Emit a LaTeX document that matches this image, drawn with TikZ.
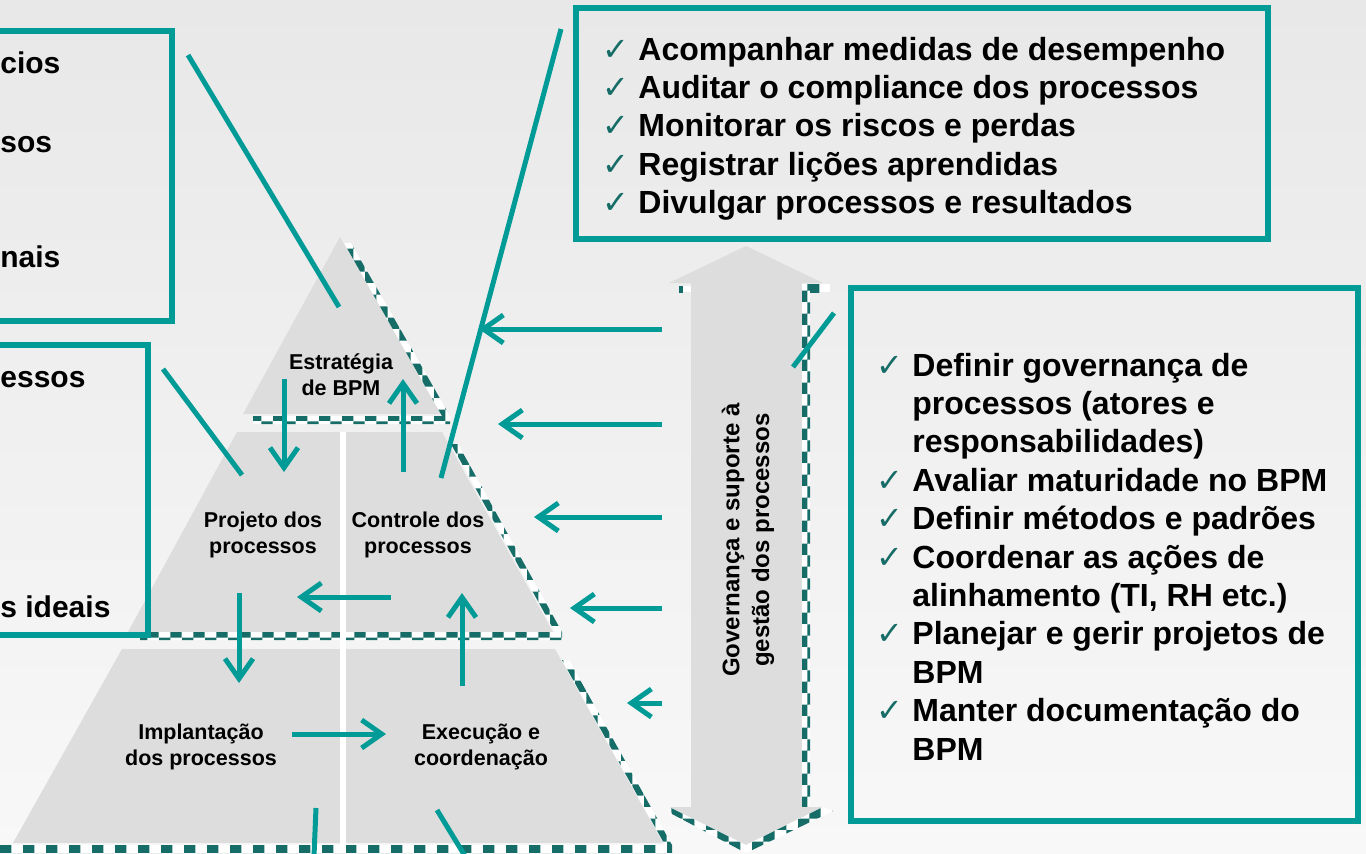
\documentclass[tikz,border=0pt]{standalone}
\usepackage{fontspec}
\setmainfont{Liberation Sans}
\newfontfamily\symfont{DejaVu Sans}
\usetikzlibrary{arrows.meta,patterns}

\definecolor{bpmteal}{RGB}{0,155,150}
\definecolor{bpmdark}{RGB}{22,108,103}
\definecolor{bpmgray}{RGB}{221,221,221}
\newcommand{\chk}{\makebox[18pt][l]{\symfont\mdseries\fontsize{16}{16}\selectfont\color{bpmdark}✓}}

\tikzset{
  panel/.style={draw=bpmteal, line width=2.6pt},
  link/.style={draw=bpmteal, line width=2.5pt},
  flow/.style={draw=bpmteal, line width=2.5pt, -{Straight Barb[length=10pt,width=14pt]}},
  checker/.style={fill=white, postaction={pattern=checkerboard, pattern color=bpmdark}},
  tier/.style={font=\bfseries\fontsize{10.75}{13}\selectfont, align=center},
  bigtxt/.style={font=\bfseries\fontsize{16}{19.2}\selectfont, inner sep=0pt},
  cuttxt/.style={font=\bfseries\fontsize{15}{18}\selectfont, inner sep=0pt, anchor=base west},
}

\begin{document}
\begin{tikzpicture}[x=0.5pt, y=-0.5pt]
  \useasboundingbox (0,0) rectangle (1366,853);
  \clip (0,0) rectangle (1366,853);
  \shade[top color={rgb,255:red,232;green,232;blue,232}, bottom color={rgb,255:red,248;green,248;blue,248}] (0,0) rectangle (1366,853);

  % pyramid
  \fill[bpmgray] (340,237) -- (443,414) -- (243,414) -- cycle;
  \fill[bpmgray] (237,432) -- (442,432) -- (553,632) -- (128,632) -- cycle;
  \fill[bpmgray] (122,649) -- (555,649) -- (663,843) -- (13,843) -- cycle;
  \fill[checker] (344,243) -- (351,243) -- (450,416) -- (450,424) -- (253,424) -- (253,416) -- (442,416) -- cycle;
  \fill[checker] (451,444) -- (458,444) -- (562,632) -- (562,640) -- (140,640) -- (140,632) -- (555,632) -- cycle;
  \fill[checker] (562,660) -- (569,660) -- (672,845) -- (672,853) -- (0,853) -- (0,845) -- (665,845) -- cycle;
  \draw[white, line width=3pt] (343,432) -- (343,853);

  % governance arrow
  \fill[bpmgray] (669,283) -- (746,246) -- (823,283) -- (802,283) -- (802,807) -- (823,807)
    -- (746,845) -- (669,807) -- (691,807) -- (691,283) -- cycle;
  \fill[checker] (802,284) rectangle (810,806);
  \fill[checker] (810,284) -- (830,284) -- (830,292) -- (810,292) -- cycle;
  \fill[checker] (679,286) rectangle (691,292);
  \fill[checker] (669,807) -- (746,845) -- (823,807) -- (833,811) -- (746,853) -- (672,814) -- cycle;
  \node[rotate=90, align=center, font=\bfseries\fontsize{12}{14.8}\selectfont] (gov) at (748,540)
    {Governança e suporte à\\gestão dos processos};

  % boxes
  \draw[panel] (-20,31) rectangle (172,321);
  \draw[panel] (-20,345) rectangle (148,635);
  \draw[panel] (576,8) rectangle (1268,239);
  \draw[panel] (851,288) rectangle (1358,821);

  \node[cuttxt] (l1) at (0,73) {cios};
  \node[cuttxt] (l2) at (0,152) {sos};
  \node[cuttxt] (l3) at (0,267) {nais};
  \node[cuttxt] (l4) at (0,387) {essos};
  \node[cuttxt] (l5) at (0,617) {s ideais};

  \node[bigtxt, anchor=base west] (medir) at (602,60) {\begin{tabular}[t]{@{}l@{}l@{}}
    \chk & Acompanhar medidas de desempenho\\
    \chk & Auditar o compliance dos processos\\
    \chk & Monitorar os riscos e perdas\\
    \chk & Registrar lições aprendidas\\
    \chk & Divulgar processos e resultados
  \end{tabular}};

  \node[bigtxt, anchor=base west] (governar) at (876,376) {\begin{tabular}[t]{@{}l@{}l@{}}
    \chk & Definir governança de\\
         & processos (atores e\\
         & responsabilidades)\\
    \chk & Avaliar maturidade no BPM\\
    \chk & Definir métodos e padrões\\
    \chk & Coordenar as ações de\\
         & alinhamento (TI, RH etc.)\\
    \chk & Planejar e gerir projetos de\\
         & BPM\\
    \chk & Manter documentação do\\
         & BPM
  \end{tabular}};

  % tiers
  \node[tier] (strat) at (341,375) {Estratégia\\de BPM};
  \node[tier] (proj) at (263,535) {Projeto dos\\processos};
  \node[tier] (ctrl) at (418,535) {Controle dos\\processos};
  \node[tier] (impl) at (201,747) {Implantação\\dos processos};
  \node[tier] (exec) at (481,747) {Execução e\\coordenação};

  % connecting lines
  \foreach \xa/\ya/\xb/\yb [count=\i] in {188/55/339/307, 163/369/242/475, 561/29/441/478,
      834/313/793/367, 316/808/314/856, 437/810/465/856} {
    \coordinate (ls\i) at (\xa,\ya);
    \coordinate (le\i) at (\xb,\yb);
    \draw[link] (ls\i) -- (le\i);
  }

  % arrows inside the pyramid
  \foreach \xa/\ya/\xb/\yb [count=\i] in {284/379/284/472, 403/472/403/379, 391/597/297/597,
      239/593/239/683, 292/734/386/734, 462/686/462/593} {
    \coordinate (as\i) at (\xa,\ya);
    \coordinate (ae\i) at (\xb,\yb);
    \draw[flow] (as\i) -- (ae\i);
  }

  % arrows from governance
  \foreach \y/\x [count=\i] in {329/479, 424/498, 517/534, 608/570, 703/627} {
    \coordinate (gt\i) at (662,\y);
    \coordinate (gh\i) at (\x,\y);
    \draw[flow] (gt\i) -- (gh\i);
  }
\end{tikzpicture}
\end{document}
